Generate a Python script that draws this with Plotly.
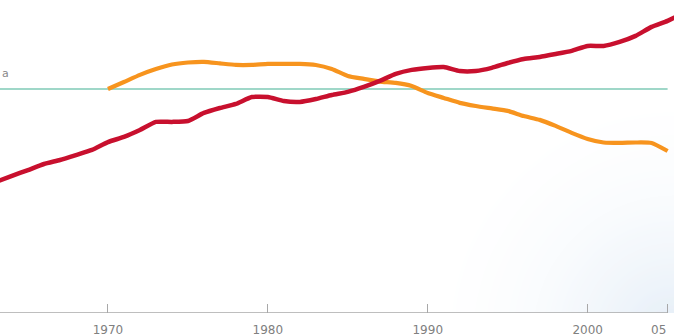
import numpy as np
import plotly.graph_objects as go

# ---- data (index, 1970 = 100) ----
red_years = [1963, 1964, 1965, 1966, 1967, 1968, 1969, 1970, 1971, 1972, 1973, 1974,
             1975, 1976, 1977, 1978, 1979, 1980, 1981, 1982, 1983, 1984, 1985, 1986,
             1987, 1988, 1989, 1990, 1991, 1992, 1993, 1994, 1995, 1996, 1997, 1998,
             1999, 2000, 2001, 2002, 2003, 2004, 2005, 2006]
red_values = [58.5, 61.2, 63.8, 66.5, 68.3, 70.5, 72.8, 76.3, 78.6, 81.7, 85.3, 85.3,
              85.7, 89.3, 91.5, 93.3, 96.4, 96.4, 94.6, 94.2, 95.5, 97.3, 98.7, 100.9,
              103.6, 106.7, 108.5, 109.4, 109.8, 108.0, 108.0, 109.4, 111.6, 113.4, 114.3, 115.6,
              117.0, 119.2, 119.2, 121.0, 123.7, 127.7, 130.4, 134.0]

orange_years = [1970, 1971, 1972, 1973, 1974, 1975, 1976, 1977, 1978, 1979, 1980, 1981,
                1982, 1983, 1984, 1985, 1986, 1987, 1988, 1989, 1990, 1991, 1992, 1993,
                1994, 1995, 1996, 1997, 1998, 1999, 2000, 2001, 2002, 2003, 2004, 2005]
orange_values = [100.0, 103.1, 106.3, 108.9, 110.9, 111.8, 112.1, 111.4, 110.7, 110.7, 111.2, 111.2,
                 111.2, 110.7, 108.9, 105.8, 104.5, 103.3, 102.7, 101.3, 98.2, 96.0, 93.8, 92.4,
                 91.3, 90.2, 87.9, 86.2, 83.5, 80.4, 77.7, 76.1, 75.9, 76.1, 75.9, 72.3]

ref_level = 100
tick_vals = [1970, 1980, 1990, 2000, 2005]
tick_text = ["1970", "1980", "1990", "2000", ""]
last_tick_text = "05"
ref_label = "a"

X_MIN, X_MAX = 1963.25, 2005.4
Y_MIN, Y_MAX = 0, 139.7

FONT = "DejaVu Sans, Liberation Sans, Arial"
TICK_COLOR_TXT = "#808080"

fig = go.Figure()

# faint background gradient (bottom-right corner), drawn under the lines
gx = np.linspace(X_MIN, X_MAX, 60)
gy = np.linspace(Y_MIN, Y_MAX, 40)
GX, GY = np.meshgrid(gx, gy)
px_x = (GX - X_MIN) / (X_MAX - X_MIN) * 674
px_y = 313 - (GY - Y_MIN) / (Y_MAX - Y_MIN) * 313
dist = np.sqrt((674 - px_x) ** 2 + (336 - px_y) ** 2) / 260
Z = np.clip(1 - dist, 0, 1)
fig.add_trace(go.Heatmap(x=gx, y=gy, z=Z, showscale=False,
                         colorscale=[[0, "rgba(255,255,255,0)"], [1, "rgb(232,240,248)"]],
                         hoverinfo="skip", zsmooth="best"))

# reference line
fig.add_trace(go.Scatter(x=[X_MIN, 2005], y=[ref_level, ref_level], mode="lines",
                         line=dict(color="#7fcab6", width=1.6), hoverinfo="skip"))

fig.add_trace(go.Scatter(x=orange_years, y=orange_values, mode="lines",
                         line=dict(color="#f7941e", width=4.2, shape="spline", smoothing=0.5)))
fig.add_trace(go.Scatter(x=red_years, y=red_values, mode="lines",
                         line=dict(color="#c8102e", width=4.5, shape="spline", smoothing=0.5)))

# axis baseline
fig.add_shape(type="line", xref="x", yref="y", x0=X_MIN, x1=2005, y0=0, y1=0,
              line=dict(color="#a8a8a8", width=1.5))

fig.add_annotation(xref="paper", yref="y", x=0, y=ref_level + 6.8, text=ref_label,
                   showarrow=False, xanchor="left", yanchor="middle",
                   font=dict(family=FONT, size=11, color="#888888"))

# last tick label, right-aligned to its tick
fig.add_annotation(xref="x", yref="paper", x=2005, y=0, yshift=-17, text=last_tick_text,
                   showarrow=False, xanchor="right", yanchor="middle",
                   font=dict(family=FONT, size=12, color=TICK_COLOR_TXT))

fig.update_layout(
    width=674, height=336,
    margin=dict(l=0, r=0, t=0, b=23),
    paper_bgcolor="white", plot_bgcolor="white",
    showlegend=False,
    xaxis=dict(range=[X_MIN, X_MAX], showgrid=False, zeroline=False, showline=False,
               tickvals=tick_vals, ticktext=tick_text, ticks="inside", ticklen=9,
               tickcolor="#a8a8a8", tickwidth=1.3, automargin=False,
               tickfont=dict(family=FONT, size=12, color=TICK_COLOR_TXT),
               ticklabelstandoff=8),
    yaxis=dict(range=[Y_MIN, Y_MAX], showgrid=False, zeroline=False, showline=False,
               showticklabels=False, ticks=""),
)

fig.write_html("out.html", config={"displayModeBar": False},
               post_script="document.body.style.margin='0';")
